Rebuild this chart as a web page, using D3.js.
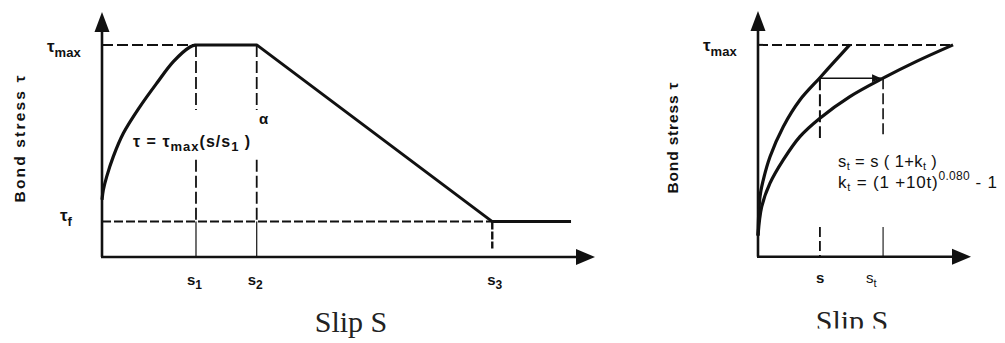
<!DOCTYPE html>
<html>
<head>
<meta charset="utf-8">
<script src="https://cdn.jsdelivr.net/npm/d3@7"></script>
<style>
  html, body { margin: 0; padding: 0; background: #fff; }
  svg { display: block; }
  .lbl { font-family: "Liberation Sans", Arial, sans-serif; fill: #111; }
  .bold { font-weight: bold; }
  .title { font-family: "Liberation Serif", "Times New Roman", serif; fill: #222; }
</style>
</head>
<body>
<svg id="chart" width="1005" height="343"></svg>
<script>
// ---- left panel: bond-slip law (slip in units of s1, stress in units of tau_max)
const leftRiseS   = [0, 0.014, 0.05, 0.12, 0.227, 0.404, 0.582, 0.759, 0.936, 1];
const leftRiseTau = [0.27, 0.316, 0.379, 0.473, 0.583, 0.709, 0.819, 0.921, 0.99, 1];
const leftEnvS    = [1, 1.646, 4.152, 4.99];
const leftEnvTau  = [1, 1, 0.167, 0.167];
const leftSlips   = [1, 1.646, 4.152];
const leftSlipSub = ['1', '2', '3'];
const tauMax = 1;
const tauF = 0.167;

// ---- right panel: creep shift of the curve (slip in units of s)
const rightS1    = [0, 0.032, 0.085, 0.194, 0.408, 0.677, 1, 1.215, 1.48];
const rightTau1  = [0.10, 0.283, 0.362, 0.472, 0.614, 0.740, 0.845, 0.915, 1];
const rightS2    = [0, 0.06, 0.194, 0.408, 0.677, 1, 1.484, 2.02, 2.56, 3.15];
const rightTau2  = [0.10, 0.236, 0.347, 0.457, 0.567, 0.654, 0.756, 0.843, 0.922, 1];
const rightSlips = [1, 2.02];
const rightTau   = 0.843;

const svg = d3.select('#chart');
const ink = '#111';

function zip(a, b) { return a.map((v, i) => [v, b[i]]); }

function drawAxes(g, x, y) {
  const [x0, x1] = x.range();
  const [y0, y1] = y.range();
  g.append('line')
    .attr('x1', x0).attr('y1', y0).attr('x2', x0).attr('y2', y1 + 16)
    .attr('stroke', ink).attr('stroke-width', 2.6);
  g.append('line')
    .attr('x1', x0 - 1).attr('y1', y0).attr('x2', x1 - 14).attr('y2', y0)
    .attr('stroke', ink).attr('stroke-width', 2.6);
  g.append('path')
    .attr('d', `M${x0},${y1} L${x0 - 7.5},${y1 + 20} L${x0 + 7.5},${y1 + 20} Z`)
    .attr('fill', ink);
  g.append('path')
    .attr('d', `M${x1},${y0} L${x1 - 19},${y0 - 8} L${x1 - 19},${y0 + 8} Z`)
    .attr('fill', ink);
}

function seg(g, p, q, w, dash) {
  const l = g.append('line')
    .attr('x1', p[0]).attr('y1', p[1]).attr('x2', q[0]).attr('y2', q[1])
    .attr('stroke', ink).attr('stroke-width', w);
  if (dash) l.attr('stroke-dasharray', dash);
  return l;
}

function sLabel(g, cx, baseline, sub, weight, subSize) {
  const t = g.append('text').attr('class', 'lbl').attr('x', cx).attr('y', baseline)
    .attr('font-size', 15).attr('font-weight', weight);
  t.append('tspan').text('s');
  t.append('tspan').attr('dy', 4).attr('font-size', subSize).text(sub);
  return t;
}

function tauLabel(g, x0, baseline, sub, subSize) {
  const t = g.append('text').attr('class', 'lbl bold').attr('x', x0).attr('y', baseline)
    .attr('font-size', 17);
  t.append('tspan').text('τ');
  t.append('tspan').attr('dy', 5).attr('font-size', subSize).text(sub);
}

function yTitle(g, cx, cy, len) {
  g.append('text').attr('class', 'lbl bold')
    .attr('transform', `translate(${cx},${cy}) rotate(-90)`)
    .attr('text-anchor', 'middle').attr('dy', 5)
    .attr('font-size', 15.5)
    .attr('textLength', len).attr('lengthAdjust', 'spacing')
    .text('Bond stress τ');
}

// ================= left panel =================
const xL = d3.scaleLinear().domain([0, 5.245]).range([102, 595]);
const yL = d3.scaleLinear().domain([0, 1.155]).range([257, 12]);
const gL = svg.append('g');

// guide lines
seg(gL, [xL(0), yL(tauMax)], [xL(leftSlips[0]), yL(tauMax)], 2, '11,4');
seg(gL, [xL(0), yL(tauF)], [xL(leftSlips[2]), yL(tauF)], 2, '9,3');
leftSlips.slice(0, 2).forEach(s => {
  seg(gL, [xL(s), yL(tauMax)], [xL(s), yL(0.693)], 1.8, '12,4');
  seg(gL, [xL(s), yL(0.458)], [xL(s), yL(tauF)], 1.8, '12,4');
  seg(gL, [xL(s), yL(tauF)], [xL(s), yL(0)], 1.2);
});
seg(gL, [xL(leftSlips[2]), yL(tauF)], [xL(leftSlips[2]), yL(0.04)], 2.4, '8,2');

drawAxes(gL, xL, yL);

const lineL = d3.line().x(d => xL(d[0])).y(d => yL(d[1]));
gL.append('path')
  .attr('d', lineL.curve(d3.curveCatmullRom.alpha(0.5))(zip(leftRiseS, leftRiseTau)))
  .attr('fill', 'none').attr('stroke', ink).attr('stroke-width', 3.2);
gL.append('path')
  .attr('d', lineL.curve(d3.curveLinear)(zip(leftEnvS, leftEnvTau)))
  .attr('fill', 'none').attr('stroke', ink).attr('stroke-width', 3)
  .attr('stroke-linejoin', 'round');

// labels
tauLabel(gL, 47, 52, 'max', 13);
tauLabel(gL, 60, 221, 'f', 13);
yTitle(gL, 20, 139, 127);
leftSlips.forEach((s, i) => {
  sLabel(gL, xL(s) - 9 + (i === 2 ? 4 : 0), 285, leftSlipSub[i], 'bold', 12);
});

const f = gL.append('text').attr('class', 'lbl bold')
  .attr('x', xL(0.33)).attr('y', yL(0.52)).attr('font-size', 16)
  .attr('letter-spacing', 1);
f.append('tspan').text('τ = τ');
f.append('tspan').attr('dy', 4).attr('font-size', 13).text('max');
f.append('tspan').attr('dy', -4).text('(s/s');
f.append('tspan').attr('dy', 4).attr('font-size', 13).text('1');
f.append('tspan').attr('dy', -4).text(' )');
gL.append('text').attr('class', 'lbl bold')
  .attr('x', xL(1.67)).attr('y', yL(0.625)).attr('font-size', 15).text('α');

svg.append('text').attr('class', 'title')
  .attr('x', 351).attr('y', 332).attr('text-anchor', 'middle')
  .attr('font-size', 30).text('Slip S');

// ================= right panel =================
const xR = d3.scaleLinear().domain([0, 3.44]).range([758, 971]);
const yR = d3.scaleLinear().domain([0, 1.16]).range([256.7, 11]);
const gR = svg.append('g');

seg(gR, [xR(0), yR(tauMax)], [xR(rightS2[rightS2.length - 1]), yR(tauMax)], 2, '10,4');
// shift arrow
seg(gR, [xR(rightSlips[0]), yR(rightTau)], [xR(rightSlips[1]) - 2, yR(rightTau)], 1.5);
gR.append('path')
  .attr('d', `M${xR(rightSlips[1]) - 2},${yR(rightTau)} l-9,-4 l0,8 Z`)
  .attr('fill', ink);
// s verticals
seg(gR, [xR(rightSlips[0]), yR(rightTau)], [xR(rightSlips[0]), yR(0.56)], 2, '12,4');
seg(gR, [xR(rightSlips[0]), yR(0.14)], [xR(rightSlips[0]), yR(0)], 1.8, '10,4');
seg(gR, [xR(rightSlips[1]), yR(rightTau)], [xR(rightSlips[1]), yR(0.56)], 1.6, '11,4');
seg(gR, [xR(rightSlips[1]), yR(0.14)], [xR(rightSlips[1]), yR(0)], 1.1);

drawAxes(gR, xR, yR);

const lineR = d3.line().x(d => xR(d[0])).y(d => yR(d[1])).curve(d3.curveCatmullRom.alpha(0.5));
[zip(rightS1, rightTau1), zip(rightS2, rightTau2)].forEach(pts => {
  gR.append('path').attr('d', lineR(pts))
    .attr('fill', 'none').attr('stroke', ink).attr('stroke-width', 3.2);
});

tauLabel(gR, 703, 51, 'max', 13);
yTitle(gR, 673, 138, 111);
sLabel(gR, xR(rightSlips[0]) - 4, 283, '', 'bold', 12);
sLabel(gR, xR(rightSlips[1]) - 17, 283, 't', 'normal', 11);

const e1 = gR.append('text').attr('class', 'lbl').attr('x', 838).attr('y', 167)
  .attr('font-size', 16.5).attr('letter-spacing', 0.4);
e1.append('tspan').text('s');
e1.append('tspan').attr('dy', 3).attr('font-size', 11).text('t');
e1.append('tspan').attr('dy', -3).text(' = s ( 1+k');
e1.append('tspan').attr('dy', 3).attr('font-size', 11).text('t');
e1.append('tspan').attr('dy', -3).text(' )');
const e2 = gR.append('text').attr('class', 'lbl').attr('x', 838).attr('y', 188)
  .attr('font-size', 17).attr('letter-spacing', 0.8);
e2.append('tspan').text('k');
e2.append('tspan').attr('dy', 3).attr('font-size', 11).text('t');
e2.append('tspan').attr('dy', -3).text(' = (1 +10t)');
e2.append('tspan').attr('dy', -8).attr('font-size', 12).attr('letter-spacing', 0.3).text('0.080');
e2.append('tspan').attr('dy', 8).text('  - 1');

svg.append('clipPath').attr('id', 'cut')
  .append('rect').attr('x', 700).attr('y', 0).attr('width', 305).attr('height', 328.5);
svg.append('text').attr('class', 'title').attr('clip-path', 'url(#cut)')
  .attr('x', 852).attr('y', 331).attr('text-anchor', 'middle')
  .attr('font-size', 30).text('Slip S');
</script>
</body>
</html>
